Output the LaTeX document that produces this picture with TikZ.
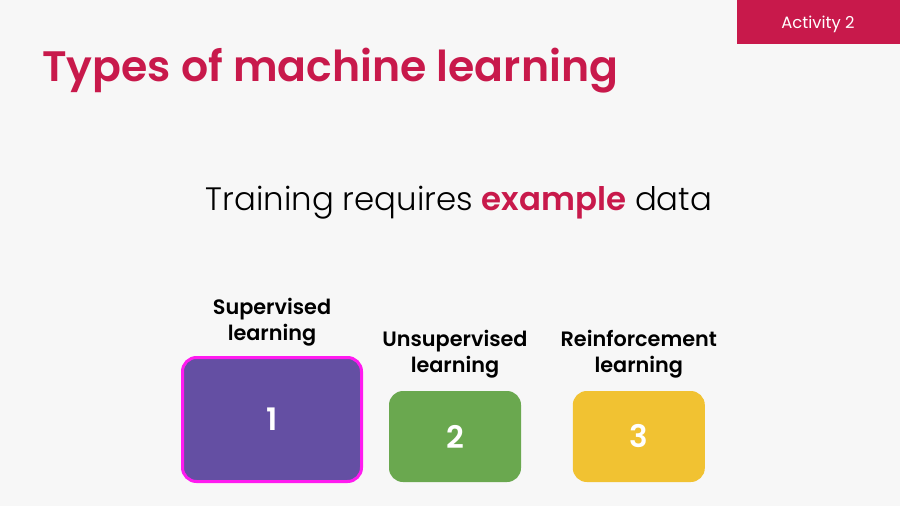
\documentclass[tikz,border=0pt]{standalone}
\usepackage{fontspec}
\setmainfont{Poppins}
\newfontfamily\semifont{Poppins SemiBold}
\newfontfamily\thinfont{Poppins Light}
\definecolor{slidebg}{HTML}{F7F7F7}
\definecolor{crimson}{HTML}{C8194B}
\definecolor{cardviolet}{HTML}{644FA3}
\definecolor{cardgreen}{HTML}{6AA84F}
\definecolor{cardyellow}{HTML}{F1C232}
\definecolor{hilite}{HTML}{FF1AF0}
\begin{document}
\begin{tikzpicture}[x=1pt, y=-1pt, line join=round, line cap=round]
	\tikzset{
		card/.style={rounded corners=14pt, inner sep=0pt, minimum width=132pt, minimum height=91pt,
			text=white, font=\semifont\fontsize{31}{36}\selectfont},
		caption/.style={align=center, inner sep=0pt, anchor=base, font=\semifont\fontsize{20.8}{26.5}\selectfont},
	}
	% slide
	\fill[slidebg] (0,0) rectangle (900,506);
	\fill[crimson] (737,0) rectangle (900,44);
	\node[text=white, anchor=base, font=\fontsize{16.4}{19}\selectfont] (tab) at (818,28.3) {Activity 2};
	
	\node[anchor=base west, inner sep=0pt, text=crimson, font=\semifont\fontsize{42.6}{48}\selectfont] (title) at (42,81.7) {Types of machine learning};
	\node[anchor=base, inner sep=0pt, font=\thinfont\fontsize{32.4}{40}\selectfont] (claim) at (459,210)
		{Training requires \textcolor{crimson}{\semifont example} data};
	
	% the three kinds
	\node[card, fill=cardviolet, draw=hilite, line width=3pt, minimum width=179pt, minimum height=124pt] (box1) at (272,419.5) {1};
	\node[caption] (lab1) at (272,340.7) {Supervised\\learning};
	\foreach \n/\x/\c/\t in {2/455/cardgreen/Unsupervised, 3/638.8/cardyellow/Reinforcement} {
		\node[card, fill=\c] (box\n) at (\x,436.5) {\n};
		\node[caption] (lab\n) at (\x,372.7) {\t\\learning};
	}
\end{tikzpicture}
\end{document}
